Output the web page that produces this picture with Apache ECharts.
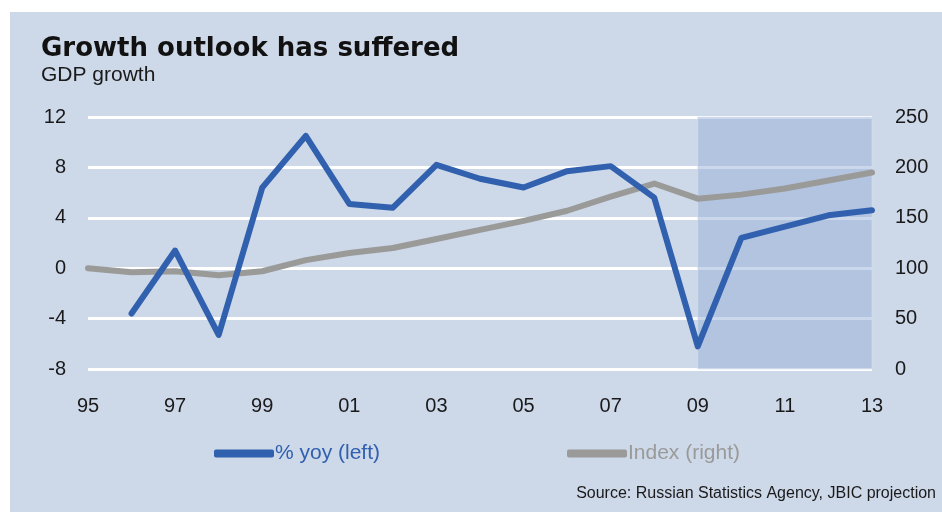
<!DOCTYPE html>
<html>
<head>
<meta charset="utf-8">
<script src="https://cdn.jsdelivr.net/npm/echarts@6/dist/echarts.min.js"></script>
<style>
html,body{margin:0;padding:0;background:#fff;}
#c{width:942px;height:512px;}
</style>
</head>
<body>
<div id="c"></div>
<script>
const years = ['95','96','97','98','99','00','01','02','03','04','05','06','07','08','09','10','11','12','13'];
const yoy = [null,-3.6,1.4,-5.3,6.4,10.5,5.1,4.8,8.2,7.1,6.4,7.7,8.1,5.6,-6.2,2.4,3.3,4.2,4.6];
const indexVals = [100,96,97,93,97,108,115,120,129,138,147,157,171,184,169,173,179,187,195];
const leftTicks = {min:-8, max:12, interval:4};
const rightTicks = {min:0, max:250, interval:50};
const projStart = '09', projEnd = '13';

const chart = echarts.init(document.getElementById('c'), null, {renderer:'canvas'});
const FONT = 'Liberation Sans, Arial, sans-serif';
chart.setOption({
  backgroundColor:'#ffffff',
  animation:false,
  graphic:[
    {type:'rect', z:-10, shape:{x:10,y:12,width:932,height:500}, style:{fill:'#cdd8e9'}},
    {type:'text', left:41, top:36, style:{text:'Growth outlook has suffered', font:'bold 26px DejaVu Sans, sans-serif', fill:'#111'}},
    {type:'text', left:41, top:65, style:{text:'GDP growth', font:'21px '+FONT, fill:'#1a1a1a'}},
    {type:'text', right:6, top:486, style:{text:'Source: Russian Statistics Agency, JBIC projection', font:'16px '+FONT, fill:'#1a1a1a'}}
  ],
  grid:{left:88, right:70, top:117, bottom:143, containLabel:false},
  legend:[
    {left:209, top:438, itemWidth:60, itemHeight:8, icon:'roundRect', itemGap:0,
     textStyle:{fontSize:21, fontFamily:FONT, padding:[0,0,0,-4]},
     data:[{name:'% yoy (left)', textStyle:{color:'#3060ae'}}]},
    {left:562, top:438, itemWidth:60, itemHeight:8, icon:'roundRect', itemGap:0,
     textStyle:{fontSize:21, fontFamily:FONT, padding:[0,0,0,-4]},
     data:[{name:'Index (right)', textStyle:{color:'#9a9a98'}}]}
  ],
  xAxis:{
    type:'category', data:years, boundaryGap:false,
    axisLine:{show:false}, axisTick:{show:false},
    axisLabel:{interval:1, margin:27, fontSize:20, fontFamily:FONT, color:'#1a1a1a'},
    splitLine:{show:false}
  },
  yAxis:[
    {type:'value', min:leftTicks.min, max:leftTicks.max, interval:leftTicks.interval, position:'left',
     axisLine:{show:false}, axisTick:{show:false},
     axisLabel:{margin:22, fontSize:20, fontFamily:FONT, color:'#1a1a1a'},
     splitLine:{show:true, lineStyle:{color:'#ffffff', width:3}}},
    {type:'value', min:rightTicks.min, max:rightTicks.max, interval:rightTicks.interval, position:'right',
     axisLine:{show:false}, axisTick:{show:false},
     axisLabel:{margin:23, fontSize:20, fontFamily:FONT, color:'#1a1a1a'},
     splitLine:{show:false}}
  ],
  series:[
    {name:'Index (right)', type:'line', yAxisIndex:1, data:indexVals, showSymbol:false, symbol:'none',
     color:'#9a9a98', lineStyle:{width:6, color:'#9a9a98', cap:'round', join:'round'}, z:2},
    {name:'% yoy (left)', type:'line', yAxisIndex:0, data:yoy, showSymbol:false, symbol:'none',
     color:'#3060ae', lineStyle:{width:6, color:'#3060ae', cap:'round', join:'round'}, z:3},
    {name:'proj', type:'line', data:[], z:10, silent:true,
     markArea:{silent:true, itemStyle:{color:'rgba(151,176,213,0.5)', borderColor:'rgba(215,225,240,0.6)', borderWidth:1},
       data:[[{xAxis:projStart, yAxis:leftTicks.max},{xAxis:projEnd, yAxis:leftTicks.min}]]}}
  ]
});
</script>
</body>
</html>
